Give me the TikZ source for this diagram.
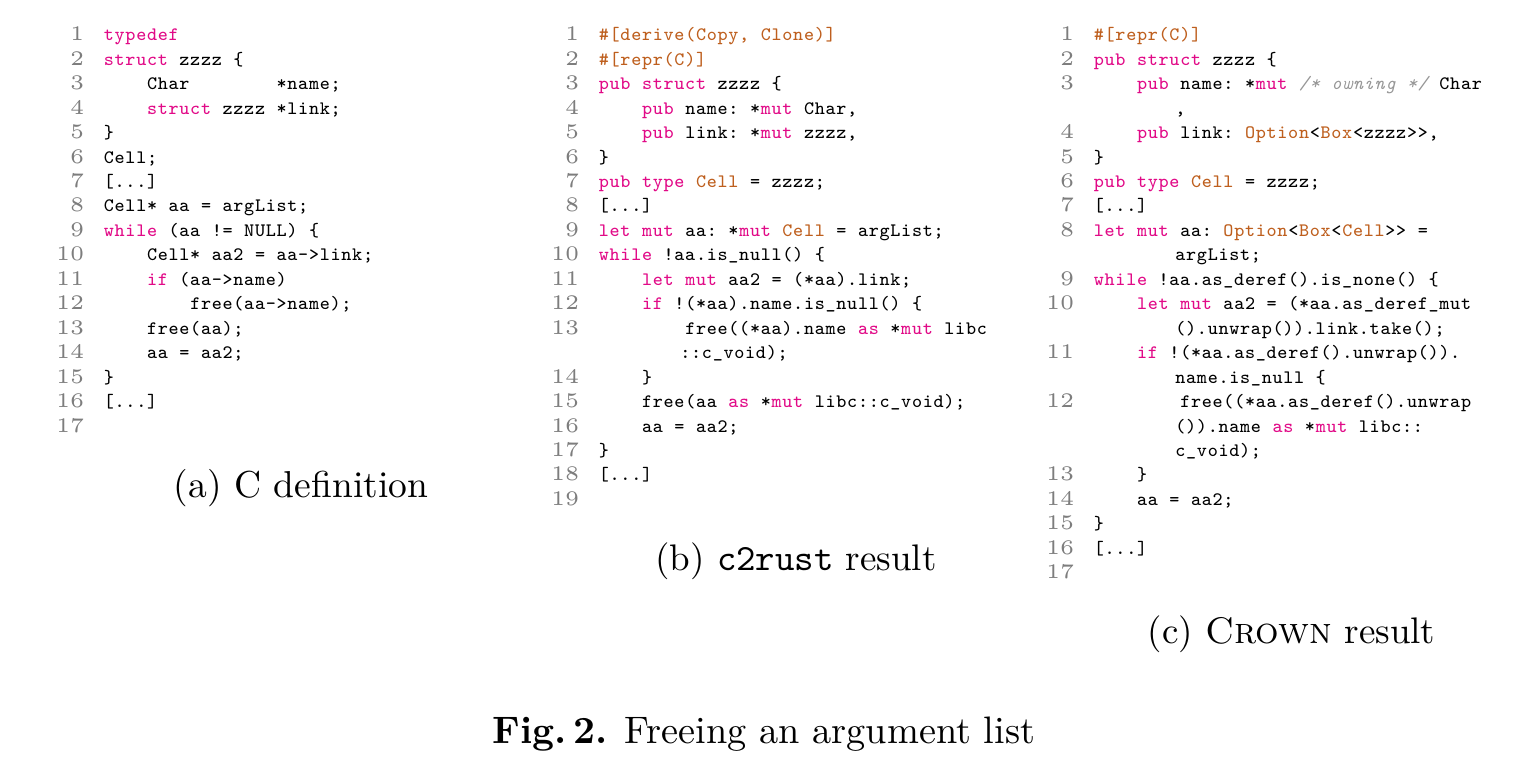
\documentclass[tikz,border=0pt]{standalone}
\usepackage{graphicx}
\usepackage{xcolor}
\definecolor{kwc}{RGB}{225,10,135}
\definecolor{tyc}{RGB}{190,95,30}
\definecolor{cmc}{RGB}{150,150,150}
\definecolor{numc}{RGB}{125,125,125}
\ExplSyntaxOn
\cs_new_protected:Npn \fixchars #1 { \tl_map_inline:nn {#1} { \makebox[4.547pt][c]{##1} } }
\ExplSyntaxOff
\newcommand\kw[1]{{\color{kwc}\fixchars{#1}}}
\newcommand\ty[1]{{\color{tyc}\fixchars{#1}}}
\newcommand\pl[1]{\fixchars{#1}}
\newcommand\cmt[1]{{\color{cmc}\itshape\fixchars{#1}}}
\newcommand\code[1]{\scalebox{2.375}{\fontsize{8}{9}\selectfont\ttfamily #1}}
\newcommand\numf[1]{\scalebox{4.15}{\fontsize{5}{6}\selectfont #1}}
\newcommand\cdl[5]{\node[codeln] (#1) at ({#2+#3*10.8},{40.7+#4*24.46}) {\code{#5}};}
\begin{document}
\begin{tikzpicture}[x=1pt,y=-1pt,
  codeln/.style={anchor=base west,inner sep=0pt,outer sep=0pt},
  numst/.style={anchor=base east,inner sep=0pt,text=numc},
  captxt/.style={anchor=base,inner sep=0pt}]
\useasboundingbox (0,0) rectangle (1536,776);
% line numbers
\foreach \n/\r in {1/0,2/1,3/2,4/3,5/4,6/5,7/6,8/7,9/8,10/9,11/10,12/11,13/12,14/13,15/14,16/15,17/16}
  \node[numst] (na\n) at (84.5,{40.7+\r*24.46}) {\numf{\n}};
\foreach \n/\r in {1/0,2/1,3/2,4/3,5/4,6/5,7/6,8/7,9/8,10/9,11/10,12/11,13/12,14/14,15/15,16/16,17/17,18/18,19/19}
  \node[numst] (nb\n) at (579.5,{40.7+\r*24.46}) {\numf{\n}};
\foreach \n/\r in {1/0,2/1,3/2,4/4,5/5,6/6,7/7,8/8,9/10,10/11,11/13,12/15,13/18,14/19,15/20,16/21,17/22}
  \node[numst] (nc\n) at (1074.5,{40.7+\r*24.46}) {\numf{\n}};
% (a) C definition
\cdl{a1}{103.5}{0}{0}{\kw{typedef}}
\cdl{a2}{103.5}{0}{1}{\kw{struct}\pl{~zzzz~\{}}
\cdl{a3}{103.5}{4}{2}{\pl{Char~~~~~~~~*name;}}
\cdl{a4}{103.5}{4}{3}{\kw{struct}\pl{~zzzz~*link;}}
\cdl{a5}{103.5}{0}{4}{\pl{\}}}
\cdl{a6}{103.5}{0}{5}{\pl{Cell;}}
\cdl{a7}{103.5}{0}{6}{\pl{[...]}}
\cdl{a8}{103.5}{0}{7}{\pl{Cell*~aa~=~argList;}}
\cdl{a9}{103.5}{0}{8}{\kw{while}\pl{~(aa~!=~NULL)~\{}}
\cdl{a10}{103.5}{4}{9}{\pl{Cell*~aa2~=~aa->link;}}
\cdl{a11}{103.5}{4}{10}{\kw{if}\pl{~(aa->name)}}
\cdl{a12}{103.5}{8}{11}{\pl{free(aa->name);}}
\cdl{a13}{103.5}{4}{12}{\pl{free(aa);}}
\cdl{a14}{103.5}{4}{13}{\pl{aa~=~aa2;}}
\cdl{a15}{103.5}{0}{14}{\pl{\}}}
\cdl{a16}{103.5}{0}{15}{\pl{[...]}}
% (b) c2rust
\cdl{b1}{598.5}{0}{0}{\ty{\#[derive(Copy,~Clone)]}}
\cdl{b2}{598.5}{0}{1}{\ty{\#[repr(C)]}}
\cdl{b3}{598.5}{0}{2}{\kw{pub}\pl{~}\kw{struct}\pl{~zzzz~\{}}
\cdl{b4}{598.5}{4}{3}{\kw{pub}\pl{~name:~*}\kw{mut}\pl{~Char,}}
\cdl{b5}{598.5}{4}{4}{\kw{pub}\pl{~link:~*}\kw{mut}\pl{~zzzz,}}
\cdl{b6}{598.5}{0}{5}{\pl{\}}}
\cdl{b7}{598.5}{0}{6}{\kw{pub}\pl{~}\kw{type}\pl{~}\ty{Cell}\pl{~=~zzzz;}}
\cdl{b8}{598.5}{0}{7}{\pl{[...]}}
\cdl{b9}{598.5}{0}{8}{\kw{let}\pl{~}\kw{mut}\pl{~aa:~*}\kw{mut}\pl{~}\ty{Cell}\pl{~=~argList;}}
\cdl{b10}{598.5}{0}{9}{\kw{while}\pl{~!aa.is\_null()~\{}}
\cdl{b11}{598.5}{4}{10}{\kw{let}\pl{~}\kw{mut}\pl{~aa2~=~(*aa).link;}}
\cdl{b12}{598.5}{4}{11}{\kw{if}\pl{~!(*aa).name.is\_null()~\{}}
\cdl{b13}{598.5}{8}{12}{\pl{free((*aa).name~}\kw{as}\pl{~*}\kw{mut}\pl{~libc}}
\cdl{b13c}{680}{0}{13}{\pl{::c\_void);}}
\cdl{b14}{598.5}{4}{14}{\pl{\}}}
\cdl{b15}{598.5}{4}{15}{\pl{free(aa~}\kw{as}\pl{~*}\kw{mut}\pl{~libc::c\_void);}}
\cdl{b16}{598.5}{4}{16}{\pl{aa~=~aa2;}}
\cdl{b17}{598.5}{0}{17}{\pl{\}}}
\cdl{b18}{598.5}{0}{18}{\pl{[...]}}
% (c) CROWN
\cdl{c1}{1093.5}{0}{0}{\ty{\#[repr(C)]}}
\cdl{c2}{1093.5}{0}{1}{\kw{pub}\pl{~}\kw{struct}\pl{~zzzz~\{}}
\cdl{c3}{1093.5}{4}{2}{\kw{pub}\pl{~name:~*}\kw{mut}\pl{~}\cmt{/*~owning~*/}\pl{~Char}}
\cdl{c3c}{1175}{0}{3}{\pl{,}}
\cdl{c4}{1093.5}{4}{4}{\kw{pub}\pl{~link:~}\ty{Option}\pl{<}\ty{Box}\pl{<zzzz>>,}}
\cdl{c5}{1093.5}{0}{5}{\pl{\}}}
\cdl{c6}{1093.5}{0}{6}{\kw{pub}\pl{~}\kw{type}\pl{~}\ty{Cell}\pl{~=~zzzz;}}
\cdl{c7}{1093.5}{0}{7}{\pl{[...]}}
\cdl{c8}{1093.5}{0}{8}{\kw{let}\pl{~}\kw{mut}\pl{~aa:~}\ty{Option}\pl{<}\ty{Box}\pl{<}\ty{Cell}\pl{>>~=}}
\cdl{c8c}{1175}{0}{9}{\pl{argList;}}
\cdl{c9}{1093.5}{0}{10}{\kw{while}\pl{~!aa.as\_deref().is\_none()~\{}}
\cdl{c10}{1093.5}{4}{11}{\kw{let}\pl{~}\kw{mut}\pl{~aa2~=~(*aa.as\_deref\_mut}}
\cdl{c10c}{1175}{0}{12}{\pl{().unwrap()).link.take();}}
\cdl{c11}{1093.5}{4}{13}{\kw{if}\pl{~!(*aa.as\_deref().unwrap()).}}
\cdl{c11c}{1175}{0}{14}{\pl{name.is\_null~\{}}
\cdl{c12}{1093.5}{8}{15}{\pl{free((*aa.as\_deref().unwrap}}
\cdl{c12c}{1175}{0}{16}{\pl{()).name~}\kw{as}\pl{~*}\kw{mut}\pl{~libc::}}
\cdl{c12d}{1175}{0}{17}{\pl{c\_void);}}
\cdl{c13}{1093.5}{4}{18}{\pl{\}}}
\cdl{c14}{1093.5}{4}{19}{\pl{aa~=~aa2;}}
\cdl{c15}{1093.5}{0}{20}{\pl{\}}}
\cdl{c16}{1093.5}{0}{21}{\pl{[...]}}
% captions
\node[captxt] (capa) at (301,497) {\scalebox{3.75}{(a) C definition}};
\node[captxt] (capb) at (796,570) {\scalebox{3.7}{(b) \texttt{c2rust} result}};
\node[captxt] (capc) at (1291.5,643) {\scalebox{3.7}{(c) \textsc{Crown} result}};
\node[captxt] (fig) at (764,743) {\scalebox{3.83}{\textbf{Fig.\,2.} Freeing an argument list}};
\end{tikzpicture}
\end{document}
